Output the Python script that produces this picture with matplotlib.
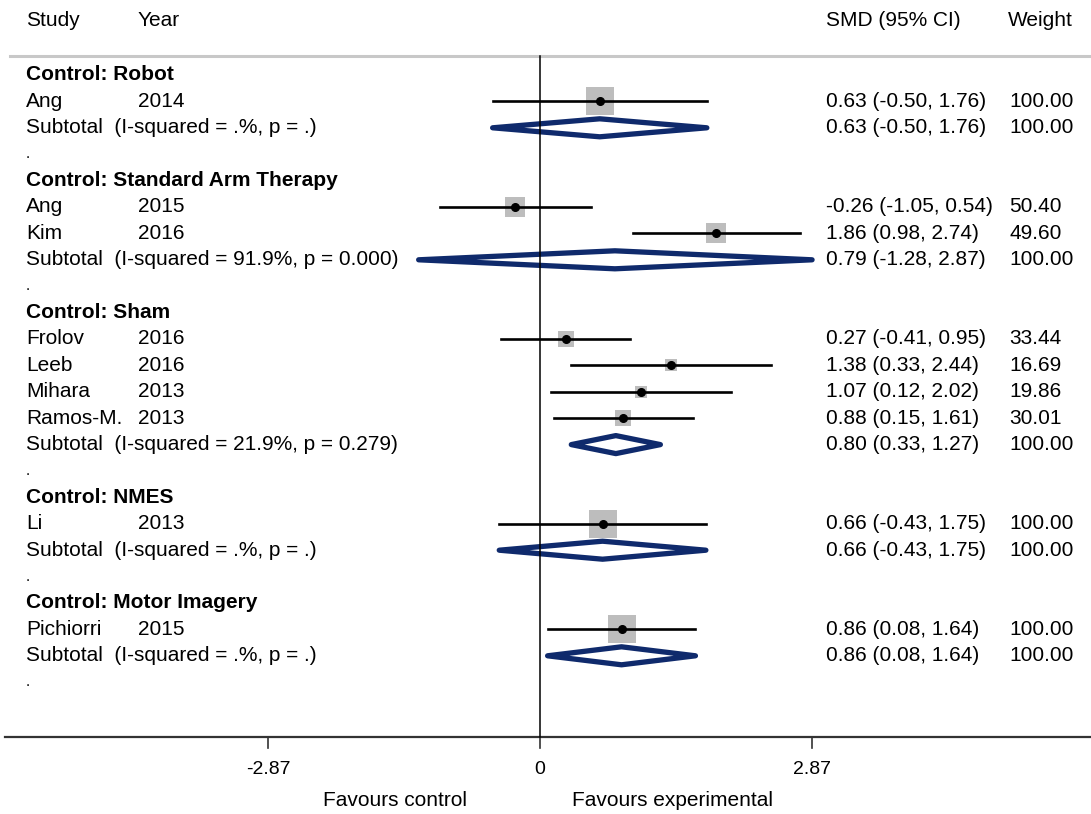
import matplotlib.pyplot as plt
import matplotlib.transforms as mtransforms
from matplotlib.patches import Polygon
import numpy as np

plt.rcParams["font.family"] = ["Liberation Sans", "DejaVu Sans"]

# data
groups = ["Robot", "Standard Arm Therapy", "Sham", "NMES", "Motor Imagery"]
study = ["Ang", "Ang", "Kim", "Frolov", "Leeb", "Mihara", "Ramos-M.", "Li", "Pichiorri"]
year = [2014, 2015, 2016, 2016, 2016, 2013, 2013, 2013, 2015]
group_of = [0, 1, 1, 2, 2, 2, 2, 3, 4]
smd = [0.63, -0.26, 1.86, 0.27, 1.38, 1.07, 0.88, 0.66, 0.86]
ci_lo = [-0.50, -1.05, 0.98, -0.41, 0.33, 0.12, 0.15, -0.43, 0.08]
ci_hi = [1.76, 0.54, 2.74, 0.95, 2.44, 2.02, 1.61, 1.75, 1.64]
weight = [100.00, 50.40, 49.60, 33.44, 16.69, 19.86, 30.01, 100.00, 100.00]

sub_smd = [0.63, 0.79, 0.80, 0.66, 0.86]
sub_lo = [-0.50, -1.28, 0.33, -0.43, 0.08]
sub_hi = [1.76, 2.87, 1.27, 1.75, 1.64]
sub_het = [".%, p = .", "91.9%, p = 0.000", "21.9%, p = 0.279", ".%, p = .", ".%, p = ."]

xticks = [-2.87, 0, 2.87]

W, H = 1091, 814
PX_PER_UNIT = 94.8   # pixels per SMD unit
X0 = 540             # pixel of SMD = 0
ROW0 = 75            # pixel of first row
ROW_H = 26.4         # pixels per row

NAVY = "#0f2a6c"
GREY_BOX = "#bdbdbd"
FS = 15

fig = plt.figure(figsize=(W / 100, H / 100), dpi=100)
ax = fig.add_axes([0, 0, 1, 1])
ax.set_xlim(-X0 / PX_PER_UNIT, (W - X0) / PX_PER_UNIT)
ax.set_ylim((H - ROW0) / ROW_H, -ROW0 / ROW_H)
ax.axis("off")

# x in axes fraction (pixel columns), y in row units
tr = mtransforms.blended_transform_factory(ax.transAxes, ax.transData)


def px(x):
    return x / W


def rowpix(p):
    return (p - ROW0) / ROW_H


col_study, col_year, col_smd, col_w = px(26), px(138), px(826), px(1009)

# header
hy = rowpix(21)
for c, t in [(col_study, "Study"), (col_year, "Year"), (col_smd, "SMD (95% CI)"), (px(1008), "Weight")]:
    ax.text(c, hy, t, transform=tr, fontsize=FS, va="center", ha="left")
ax.plot([px(10), 1], [rowpix(56)] * 2, transform=tr, color="#c8c8c8", lw=2.2, clip_on=False)

row = 0
for g, gname in enumerate(groups):
    ax.text(col_study, row, "Control: " + gname, transform=tr, fontsize=FS,
            fontweight="bold", va="center")
    row += 1
    for i in [k for k in range(len(study)) if group_of[k] == g]:
        ax.text(col_study, row, study[i], transform=tr, fontsize=FS, va="center")
        ax.text(col_year, row, str(year[i]), transform=tr, fontsize=FS, va="center")
        ax.text(col_smd, row, f"{smd[i]:.2f} ({ci_lo[i]:.2f}, {ci_hi[i]:.2f})",
                transform=tr, fontsize=FS, va="center")
        ax.text(col_w, row, f"{weight[i]:.2f}", transform=tr, fontsize=FS, va="center")
        side = 28 * np.sqrt(weight[i] / 100) * 0.72
        ax.plot(smd[i], row, "s", ms=side, color=GREY_BOX, mew=0, zorder=2)
        ax.plot([ci_lo[i], ci_hi[i]], [row, row], color="black", lw=1.9, zorder=3)
        ax.plot(smd[i], row, "o", ms=5.5, color="black", zorder=4)
        row += 1
    ax.text(col_study, row, f"Subtotal  (I-squared = {sub_het[g]})", transform=tr,
            fontsize=FS, va="center")
    ax.text(col_smd, row, f"{sub_smd[g]:.2f} ({sub_lo[g]:.2f}, {sub_hi[g]:.2f})",
            transform=tr, fontsize=FS, va="center")
    ax.text(col_w, row, "100.00", transform=tr, fontsize=FS, va="center")
    h = 9 / ROW_H
    dia = Polygon([(sub_lo[g], row), (sub_smd[g], row - h), (sub_hi[g], row),
                   (sub_smd[g], row + h)], closed=True, facecolor="white",
                  edgecolor=NAVY, lw=3.8, joinstyle="round", zorder=2)
    ax.add_patch(dia)
    row += 1
    ax.text(col_study, row, ".", transform=tr, fontsize=FS - 4, va="center")
    row += 1

# null line and axis
y_axis = rowpix(737)
ax.plot([0, 0], [rowpix(56), y_axis], color="black", lw=1.1, zorder=3)
ax.plot([px(5), 1], [y_axis, y_axis], transform=tr, color="#333333", lw=1.6, clip_on=False)
for t in xticks:
    ax.plot([t, t], [y_axis, rowpix(748)], color="#333333", lw=1.2)
    ax.text(t, rowpix(769), f"{t:g}", fontsize=FS - 1, ha="center", va="center")
ax.text(px(395), rowpix(800), "Favours control", transform=tr, fontsize=FS, ha="center", va="center")
ax.text(px(672), rowpix(800), "Favours experimental", transform=tr, fontsize=FS, ha="center", va="center")

fig.savefig("out.png", dpi=100)
